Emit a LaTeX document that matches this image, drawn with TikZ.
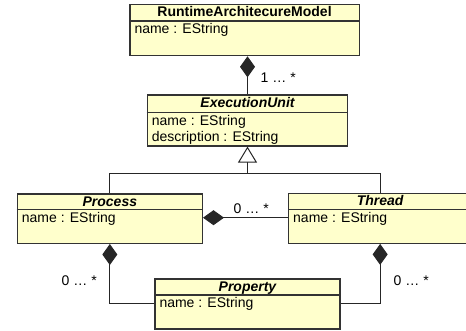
\documentclass[tikz,border=0pt]{standalone}
\usepackage{fontspec}
\setmainfont{Liberation Sans}
\usetikzlibrary{arrows.meta,calc}
\definecolor{umlfill}{HTML}{FFFFCC}
\definecolor{umlline}{HTML}{333333}
\begin{document}
\begin{tikzpicture}[x=1pt,y=-1pt,
  font=\fontsize{14}{16}\selectfont,
  classbox/.style={draw=umlline, fill=umlfill, line width=1.3pt, inner sep=0pt, anchor=north west},
  divider/.style={draw=umlline, line width=1.3pt},
  title/.style={anchor=base, inner sep=0pt, font=\fontsize{14}{16}\selectfont\bfseries},
  abstitle/.style={anchor=base, inner sep=0pt, font=\fontsize{14}{16}\selectfont\bfseries\itshape},
  attr/.style={anchor=base west, inner sep=0pt},
  conn/.style={draw=black!85, line width=1pt},
  comp/.style={conn, {Diamond[length=21pt,width=15pt]}-},
  gen/.style={conn, -{Triangle[open,length=16pt,width=19pt,fill=white]}},
  mult/.style={anchor=base west, inner sep=0pt}]
\useasboundingbox (0,0) rectangle (466,330);

% classes
\node[classbox, minimum width=229.2pt, minimum height=51pt] (ram) at (129.3,4) {};
\draw[divider] (ram.north west |- 0,21) -- (ram.north east |- 0,21);
\node[title] (ramt) at ($(ram.north)+(0,12.7)$) {RuntimeArchitecureModel};
\node[attr] (rama) at (134.3,33.7) {name : EString};

\node[classbox, minimum width=200.3pt, minimum height=51pt] (eu) at (146.7,94.3) {};
\draw[divider] (eu.north west |- 0,112.7) -- (eu.north east |- 0,112.7);
\node[abstitle] (eut) at ($(eu.north)+(0,12.7)$) {ExecutionUnit};
\node[attr] (eua) at (151.7,125.4) {name : EString};
\node[attr] (eub) at (151.7,141.2) {description : EString};

\node[classbox, minimum width=185pt, minimum height=49.4pt] (proc) at (16.7,193.3) {};
\draw[divider] (proc.north west |- 0,209.3) -- (proc.north east |- 0,209.3);
\node[abstitle] (proct) at ($(proc.north)+(0,12.7)$) {Process};
\node[attr] (proca) at (21.7,222) {name : EString};

\node[classbox, minimum width=183pt, minimum height=49.5pt] (thread) at (288,193.1) {};
\draw[divider] (thread.north west |- 0,209.3) -- (thread.north east |- 0,209.3);
\node[abstitle] (threadt) at ($(thread.north)+(0,12.7)$) {Thread};
\node[attr] (threada) at (293,222) {name : EString};

\node[classbox, minimum width=185pt, minimum height=50pt] (prop) at (154.3,278.3) {};
\draw[divider] (prop.north west |- 0,295) -- (prop.north east |- 0,295);
\node[abstitle] (propt) at ($(prop.north)+(0,12.7)$) {Property};
\node[attr] (propa) at (159.3,307.7) {name : EString};

% connectors
\draw[comp] (eu.north |- ram.south) -- (eu.north);

\coordinate (j) at (eu.south |- 0,173.3);
\draw[conn] (proc.north) |- (j) -| (thread.north);
\draw[gen] (j) -- (eu.south);

\coordinate (pt) at (proc.east |- 0,217.7);
\draw[comp] (pt) -- (pt -| thread.west);

\draw[comp] (proc.south) |- (prop.west);
\draw[comp] (thread.south) |- (prop.east);

% multiplicities
\node[mult] (m1) at (260.5,82.7) {1 … *};
\node[mult] (m2) at (233.5,213.3) {0 … *};
\node[mult] (m3) at (61.5,285) {0 … *};
\node[mult] (m4) at (393.5,285) {0 … *};
\end{tikzpicture}
\end{document}
